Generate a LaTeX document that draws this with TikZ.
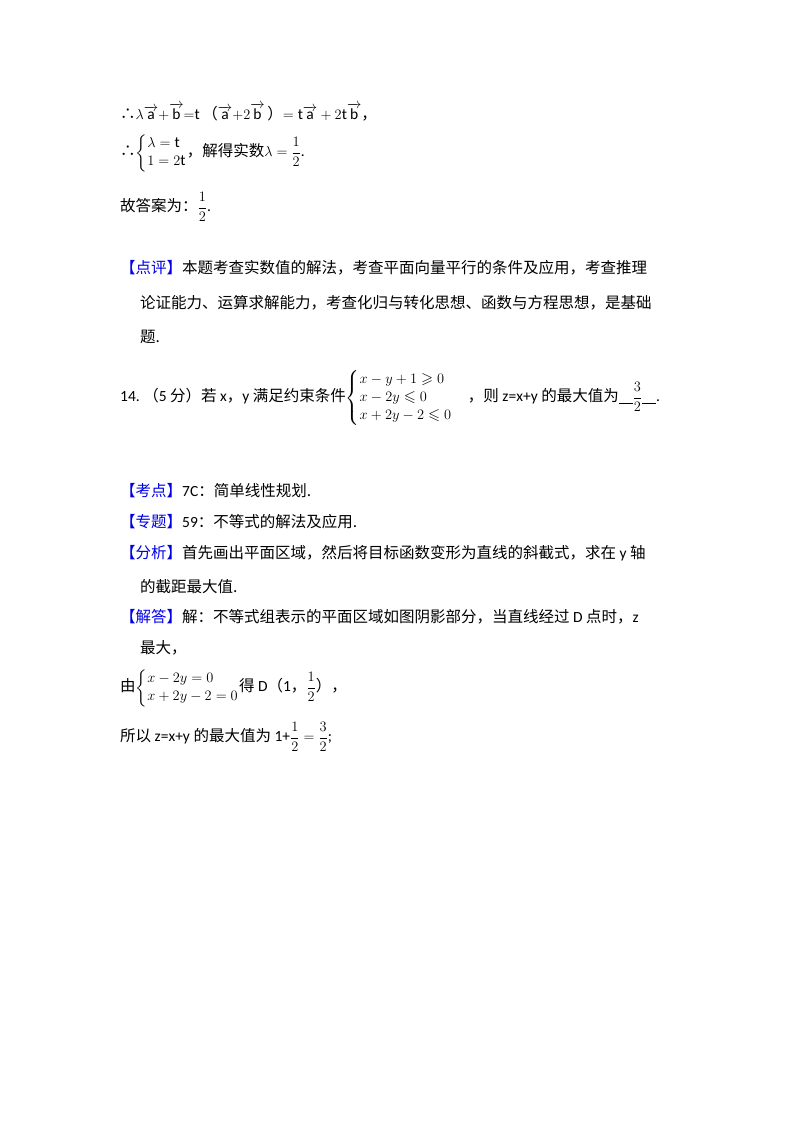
\documentclass[tikz,border=0pt]{standalone}
\usepackage{fontspec}
\usepackage{amsmath,amssymb}
\setmainfont{Carlito}
\newfontfamily\cjk{Noto Sans CJK SC}
\definecolor{kblue}{RGB}{0,0,230}
\newcommand{\ktag}[1]{{\cjk\color{kblue}【#1】}}
\newcommand{\vv}[1]{\overrightarrow{\mathrm{#1}}}
\begin{document}
\begin{tikzpicture}[x=1pt,y=1pt,
  line/.style={anchor=west,inner sep=0pt,font=\fontsize{15.5}{18}\selectfont}]
\useasboundingbox (0,0) rectangle (800,-1133);
\node[line] (l1) at (120,-112) {{\cjk ∴}$\lambda\vv{a}{+}\vv{b}{=}\mathrm{t}$\,{\cjk（}$\vv{a}{+}2\vv{b}$\,{\cjk）}$=\mathrm{t}\vv{a}+2\mathrm{t}\vv{b}${\cjk，}};
\node[line] (l2) at (120,-153) {{\cjk ∴}$\left\{\begin{array}{@{}l@{}}\lambda=\mathrm{t}\\ 1=2\mathrm{t}\end{array}\right.${\cjk ，解得实数}$\lambda=\dfrac{1}{2}$.};
\node[line] (l3) at (120,-207) {{\cjk 故答案为：}$\dfrac{1}{2}$.};
\node[line] (l4) at (120,-268) {\ktag{点评}{\cjk 本题考查实数值的解法，考查平面向量平行的条件及应用，考查推理}};
\node[line] (l5) at (140,-303) {{\cjk 论证能力、运算求解能力，考查化归与转化思想、函数与方程思想，是基础}};
\node[line] (l6) at (140,-337) {{\cjk 题.}};
\node[line] (l7) at (120,-398) {14.\ {\cjk（}5 {\cjk 分）若} x{\cjk ，}y {\cjk 满足约束条件}$\left\{\begin{array}{@{}l@{}}x-y+1\geqslant0\\ x-2y\leqslant0\\ x+2y-2\leqslant0\end{array}\right.$\quad{\cjk ，则} z=x+y {\cjk 的最大值为}\rule[-2pt]{14pt}{0.6pt}$\dfrac{3}{2}$\rule[-2pt]{14pt}{0.6pt}.};
\node[line] (l8) at (120,-491) {\ktag{考点}7C{\cjk ：简单线性规划.}};
\node[line] (l9) at (120,-522) {\ktag{专题}59{\cjk ：不等式的解法及应用.}};
\node[line] (l10) at (120,-553) {\ktag{分析}{\cjk 首先画出平面区域，然后将目标函数变形为直线的斜截式，求在} y {\cjk 轴}};
\node[line] (l11) at (140,-587) {{\cjk 的截距最大值.}};
\node[line] (l12) at (120,-617) {\ktag{解答}{\cjk 解：不等式组表示的平面区域如图阴影部分，当直线经过} D {\cjk 点时，}z};
\node[line] (l13) at (140,-648) {{\cjk 最大，}};
\node[line] (l14) at (120,-688) {{\cjk 由}$\left\{\begin{array}{@{}l@{}}x-2y=0\\ x+2y-2=0\end{array}\right.${\cjk 得} D{\cjk （}1{\cjk ，}$\dfrac{1}{2}${\cjk ），}};
\node[line] (l15) at (120,-737) {{\cjk 所以} z=x+y {\cjk 的最大值为} 1+$\dfrac{1}{2}=\dfrac{3}{2}$;};
\end{tikzpicture}
\end{document}
